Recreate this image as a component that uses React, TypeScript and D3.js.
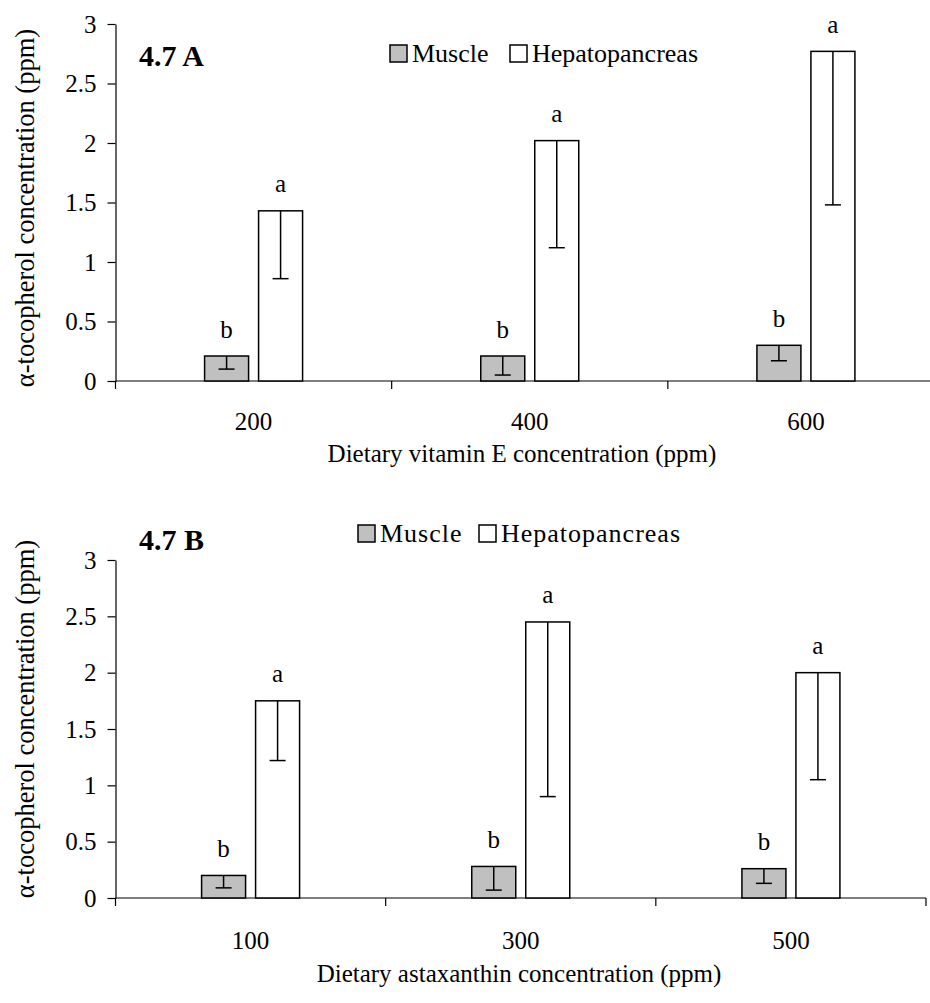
import React, { useEffect, useRef } from "react";
import * as d3 from "d3";

// panel A - vitamin E
const dosesA = ["200", "400", "600"];
const muscleA = [0.21, 0.21, 0.3];
const muscleErrA = [0.11, 0.16, 0.13];
const hepatoA = [1.43, 2.02, 2.77];
const hepatoErrA = [0.57, 0.9, 1.29];

// panel B - astaxanthin
const dosesB = ["100", "300", "500"];
const muscleB = [0.2, 0.28, 0.26];
const muscleErrB = [0.11, 0.21, 0.13];
const hepatoB = [1.75, 2.45, 2.0];
const hepatoErrB = [0.53, 1.55, 0.95];

const muscleLetters = ["b", "b", "b"];
const hepatoLetters = ["a", "a", "a"];
const yTicks = [0, 0.5, 1, 1.5, 2, 2.5, 3];
const seriesNames = ["Muscle", "Hepatopancreas"];

const FONT = "Liberation Serif, Times New Roman, serif";

type Panel = {
  label: string;
  xTitle: string;
  doses: string[];
  muscle: number[];
  muscleErr: number[];
  hepato: number[];
  hepatoErr: number[];
  left: number;
  right: number;
  top: number;
  bottom: number;
  titleCx: number;
  titleY: number;
  tickLabelY: number;
  yTitleCy: number;
  labelY: number;
  legend: { sq: number[]; y: number; spacing: number };
};

const panels: Panel[] = [
  {
    label: "4.7 A",
    xTitle: "Dietary vitamin E concentration (ppm)",
    doses: dosesA,
    muscle: muscleA,
    muscleErr: muscleErrA,
    hepato: hepatoA,
    hepatoErr: hepatoErrA,
    left: 115.5,
    right: 944,
    top: 24,
    bottom: 381,
    titleCx: 522,
    titleY: 462,
    tickLabelY: 430,
    yTitleCy: 208,
    labelY: 66,
    legend: { sq: [390, 510], y: 45, spacing: 0 },
  },
  {
    label: "4.7 B",
    xTitle: "Dietary astaxanthin concentration (ppm)",
    doses: dosesB,
    muscle: muscleB,
    muscleErr: muscleErrB,
    hepato: hepatoB,
    hepatoErr: hepatoErrB,
    left: 115.5,
    right: 926,
    top: 560,
    bottom: 898,
    titleCx: 519,
    titleY: 982,
    tickLabelY: 949,
    yTitleCy: 719,
    labelY: 550,
    legend: { sq: [358, 479], y: 525, spacing: 1 },
  },
];

const drawPanel = (svg: d3.Selection<SVGSVGElement, unknown, null, undefined>, p: Panel) => {
  const g = svg.append("g");

  const x = d3.scaleBand<string>().domain(p.doses).range([p.left, p.right]).padding(0);
  const y = d3.scaleLinear().domain([0, 3]).range([p.bottom, p.top]);

  const barW = 44;
  const gap = 10;
  const offs = [-(gap / 2 + barW / 2), gap / 2 + barW / 2];
  const fills = ["#c0c0c0", "#ffffff"];

  // y axis
  const yAxis = g
    .append("g")
    .attr("transform", `translate(${p.left},0)`)
    .call(
      d3
        .axisLeft(y)
        .tickValues(yTicks)
        .tickSize(8)
        .tickSizeOuter(0)
        .tickPadding(11)
        .tickFormat(d3.format(""))
    );
  yAxis.attr("font-family", FONT).attr("font-size", 25);
  yAxis.selectAll("text").style("font-family", FONT).style("font-size", "25px").attr("fill", "#000");
  yAxis.selectAll("line,path").attr("stroke", "#000").attr("stroke-width", 1.2);

  // x axis line + boundary ticks
  g.append("line")
    .attr("x1", p.left)
    .attr("x2", p.right)
    .attr("y1", y(0))
    .attr("y2", y(0))
    .attr("stroke", "#000")
    .attr("stroke-width", 1.2);
  const bounds = [...p.doses.map((d) => x(d) as number), p.right];
  g.selectAll(".xtick")
    .data(bounds)
    .enter()
    .append("line")
    .attr("x1", (d) => d)
    .attr("x2", (d) => d)
    .attr("y1", y(0))
    .attr("y2", y(0) + 8)
    .attr("stroke", "#000")
    .attr("stroke-width", 1.2);

  g.selectAll(".xlab")
    .data(p.doses)
    .enter()
    .append("text")
    .attr("x", (d) => (x(d) as number) + x.bandwidth() / 2)
    .attr("y", p.tickLabelY)
    .attr("text-anchor", "middle")
    .style("font-family", FONT)
    .style("font-size", "25px")
    .text((d) => d);

  const series = [
    { vals: p.muscle, errs: p.muscleErr, letters: muscleLetters },
    { vals: p.hepato, errs: p.hepatoErr, letters: hepatoLetters },
  ];

  series.forEach((s, si) => {
    const cx = (i: number) => (x(p.doses[i]) as number) + x.bandwidth() / 2 + offs[si];
    const sg = g.append("g");
    sg.selectAll("rect")
      .data(s.vals)
      .enter()
      .append("rect")
      .attr("x", (d, i) => cx(i) - barW / 2)
      .attr("y", (d) => y(d))
      .attr("width", barW)
      .attr("height", (d) => y(0) - y(d))
      .attr("fill", fills[si])
      .attr("stroke", "#000")
      .attr("stroke-width", 1.5);

    // minus error bars
    sg.selectAll(".err")
      .data(s.vals)
      .enter()
      .append("line")
      .attr("x1", (d, i) => cx(i))
      .attr("x2", (d, i) => cx(i))
      .attr("y1", (d) => y(d))
      .attr("y2", (d, i) => y(d - s.errs[i]))
      .attr("stroke", "#000")
      .attr("stroke-width", 1.5);
    sg.selectAll(".cap")
      .data(s.vals)
      .enter()
      .append("line")
      .attr("x1", (d, i) => cx(i) - 8)
      .attr("x2", (d, i) => cx(i) + 8)
      .attr("y1", (d, i) => y(d - s.errs[i]))
      .attr("y2", (d, i) => y(d - s.errs[i]))
      .attr("stroke", "#000")
      .attr("stroke-width", 1.5);

    sg.selectAll(".sig")
      .data(s.vals)
      .enter()
      .append("text")
      .attr("x", (d, i) => cx(i))
      .attr("y", (d) => y(d) - 18.5)
      .attr("text-anchor", "middle")
      .style("font-family", FONT)
      .style("font-size", "25px")
      .text((d, i) => s.letters[i]);
  });

  // panel label
  g.append("text")
    .attr("x", 139)
    .attr("y", p.labelY)
    .style("font-family", FONT)
    .style("font-size", "30px")
    .style("font-weight", "bold")
    .text(p.label);

  // legend
  seriesNames.forEach((name, i) => {
    const sx = p.legend.sq[i];
    g.append("rect")
      .attr("x", sx)
      .attr("y", p.legend.y)
      .attr("width", 17)
      .attr("height", 17)
      .attr("fill", fills[i])
      .attr("stroke", "#000")
      .attr("stroke-width", 1.5);
    g.append("text")
      .attr("x", sx + 22)
      .attr("y", p.legend.y + 17)
      .style("font-family", FONT)
      .style("font-size", "26px")
      .attr("letter-spacing", p.legend.spacing)
      .text(name);
  });

  // axis titles
  g.append("text")
    .attr("x", p.titleCx)
    .attr("y", p.titleY)
    .attr("text-anchor", "middle")
    .style("font-family", FONT)
    .style("font-size", "25px")
    .text(p.xTitle);

  g.append("text")
    .attr("transform", `translate(34,${p.yTitleCy}) rotate(-90)`)
    .attr("text-anchor", "middle")
    .style("font-family", FONT)
    .style("font-size", "26.5px")
    .text("\u03b1-tocopherol concentration (ppm)");
};

const App = () => {
  const ref = useRef<SVGSVGElement>(null);

  useEffect(() => {
    if (!ref.current) return;
    const svg = d3.select(ref.current);
    svg.selectAll("*").remove();
    panels.forEach((p) => drawPanel(svg, p));
  }, []);

  return (
    <svg
      ref={ref}
      width={930}
      height={1003}
      style={{ position: "absolute", left: 0, top: 0, background: "#fff", fontFamily: FONT }}
    ></svg>
  );
};

export default App;
